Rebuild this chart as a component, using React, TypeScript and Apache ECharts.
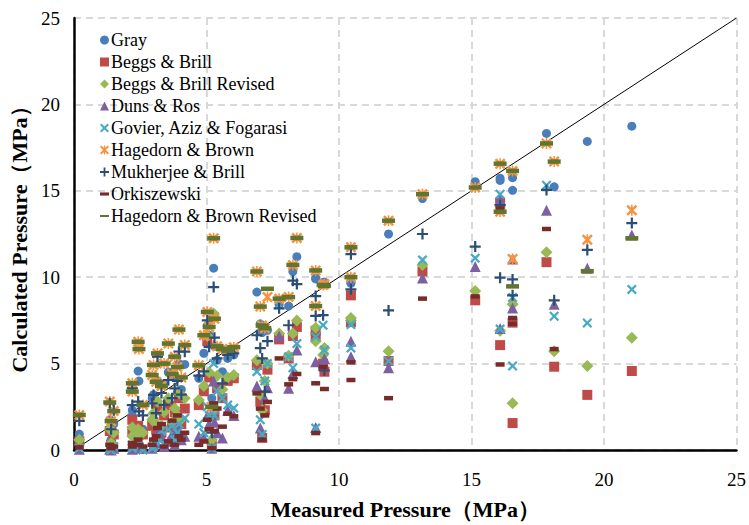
import React, { useEffect, useRef } from "react";
import * as echarts from "echarts";

const measured = [0.2,1.35,1.5,1.4,2.2,2.42,2.45,2.2,3.15,3.0,2.95,3.1,3.96,3.56,4.18,3.8,3.4,4.05,5.27,5.03,5.1,4.9,4.71,5.4,5.6,5.8,6.03,5.2,6.9,7.3,7.03,7.1,7.2,7.74,8.41,8.26,8.1,9.12,9.12,9.45,9.4,10.45,10.45,11.87,13.15,15.14,16.08,16.08,16.55,16.55,17.83,18.12,19.37,21.05,2.6,3.3,3.7,3.9,5.3];

const gray = [0.92,1.75,1.5,0.6,2.3,4.57,3.99,2.0,4.0,3.2,3.0,2.8,5.0,4.5,4.95,4.2,3.8,3.5,10.52,7.2,6.64,5.6,4.15,5.2,4.53,5.3,5.5,3.0,9.14,6.93,7.3,6.8,7.0,8.4,11.19,10.33,8.33,9.95,9.9,9.72,9.7,9.7,9.65,12.5,14.55,15.53,15.73,15.6,15.76,15.03,18.32,15.23,17.86,18.74,1.2,2.2,2.6,3.3,6.0];
const beggsBrill = [0.5,1.1,0.9,0.3,1.75,1.4,0.9,1.1,2.4,1.6,1.4,1.2,3.0,2.6,2.4,2.2,2.0,1.5,7.7,6.3,4.2,3.4,2.6,3.57,3.0,4.0,4.15,0.3,4.92,4.65,2.8,0.7,2.3,6.4,7.12,6.6,5.3,6.9,6.55,4.53,5.0,8.95,7.4,5.15,10.33,8.66,14.3,6.07,7.37,1.56,10.87,4.82,3.19,4.57,0.9,1.0,1.3,1.8,2.0];
const beggsBrillRevised = [0.6,1.2,1.0,0.4,1.3,1.2,1.0,0.8,2.8,2.13,1.75,1.5,3.3,3.0,3.0,2.4,2.2,1.8,7.9,6.6,4.5,3.7,2.9,4.3,3.5,4.2,4.34,0.6,5.2,5.0,3.2,2.3,4.0,6.74,7.5,6.74,5.45,7.07,6.3,5.9,5.5,7.64,7.5,5.72,10.7,9.2,14.2,6.9,8.43,2.71,11.44,5.72,4.86,6.49,1.0,1.4,1.6,2.0,2.4];
const dunsRos = [0.05,0.05,0.1,0.0,0.2,0.3,0.1,0.05,1.0,0.3,0.1,0.4,1.0,0.5,0.8,0.3,0.2,0.6,4.0,2.0,1.5,0.69,0.8,1.0,0.69,2.3,2.0,0.1,3.7,3.6,1.27,0.8,3.0,6.6,5.78,4.43,3.57,5.1,1.3,5.3,4.9,6.3,5.4,4.76,9.95,10.62,14.5,7.03,11.06,8.22,13.88,8.43,10.52,12.44,0.1,0.8,0.9,1.2,1.6];
const govier = [0.1,0.1,0.2,0.0,0.3,0.5,0.2,0.1,0.4,0.2,0.1,0.5,1.5,1.2,1.84,0.6,0.3,0.8,5.0,2.5,2.0,1.0,1.5,3.4,3.0,2.6,2.42,0.1,4.53,5.0,1.75,0.9,4.0,8.41,6.16,4.76,5.4,6.55,1.27,5.78,7.22,7.26,5.9,5.15,11.0,11.1,14.8,7.0,8.83,4.86,15.32,7.74,7.35,9.29,0.0,1.1,1.4,1.0,2.0];
const hagedornBrown = [2.03,2.8,2.25,1.67,3.86,6.26,5.84,3.38,5.59,4.92,4.34,3.95,6.97,6.16,6.07,5.4,5.0,4.2,12.25,7.99,7.12,6.64,4.9,6.0,5.85,5.75,5.95,2.5,10.33,8.85,8.3,7.2,7.05,8.76,12.27,10.71,8.85,10.39,8.33,9.6,9.55,11.73,10.0,13.27,14.8,15.19,16.57,13.79,16.15,11.06,17.74,16.69,12.17,13.88,2.6,3.7,4.4,4.8,7.6];
const mukherjee = [1.69,2.7,2.3,1.2,3.57,2.8,2.23,2.6,5.4,3.19,2.7,2.13,5.7,4.05,5.69,3.57,2.61,3.2,9.43,7.5,5.97,4.55,4.3,5.3,3.86,5.5,5.59,1.0,6.64,6.3,5.9,5.3,3.38,8.2,9.6,9.8,7.22,8.91,7.76,4.6,7.8,11.33,9.3,8.08,12.5,11.77,14.17,9.97,9.87,8.95,15.05,8.66,11.58,13.13,2.0,3.3,3.0,4.0,6.5];
const orkiszewski: (number | null)[] = [0.15,0.3,0.2,0.1,0.4,0.6,0.3,0.2,1.27,0.6,0.3,0.8,0.8,0.5,1.0,0.3,0.2,0.6,2.7,1.75,1.2,0.5,0.3,2.4,1.35,2.1,1.95,0.1,3.28,2.78,2.4,0.6,2.0,5.3,4.4,4.1,3.8,3.86,0.98,3.53,4.8,5.07,4.05,3.0,8.76,8.89,13.98,4.95,7.64,7.3,12.79,5.84,null,null,0.2,1.5,1.7,2.0,1.1];
const hagedornBrownRevised = [2.03,2.75,2.25,1.67,3.86,6.26,5.84,3.38,5.59,4.92,4.34,3.95,6.97,6.16,6.07,5.4,5.0,4.2,12.25,7.99,7.12,6.64,4.9,6.0,5.85,5.75,5.95,2.5,10.33,9.33,8.3,7.2,7.05,8.76,12.27,10.71,8.85,10.39,8.33,9.5,9.55,11.73,10.0,13.27,14.8,15.19,16.57,13.79,16.15,9.47,17.74,16.69,10.35,12.25,2.6,3.7,4.4,4.8,7.6];

const X_PATH = "path://M0,1.6L1.6,0L5,3.4L8.4,0L10,1.6L6.6,5L10,8.4L8.4,10L5,6.6L1.6,10L0,8.4L3.4,5Z";
const STAR_PATH = "path://M0,1.6L1.6,0L5,3.4L8.4,0L10,1.6L6.6,5L10,8.4L8.4,10L5,6.6L1.6,10L0,8.4L3.4,5Z M4.3,0H5.7V10H4.3Z";
const PLUS_PATH = "path://M4,0H6V4H10V6H6V10H4V6H0V4H4Z";
const SHORT_DASH = "path://M0,0H10V3.5H0Z";
const LONG_DASH = "path://M0,0H16V3.5H0Z";

const seriesDefs = [
  { name: "Gray", values: gray, color: "#4a7ebb", symbol: "circle", size: 9, icon: "circle" },
  { name: "Beggs & Brill", values: beggsBrill, color: "#be4b48", symbol: "rect", size: 10, icon: "rect" },
  { name: "Beggs & Brill Revised", values: beggsBrillRevised, color: "#98b954", symbol: "diamond", size: 12, icon: "diamond" },
  { name: "Duns & Ros", values: dunsRos, color: "#7d60a0", symbol: "triangle", size: 11, icon: "triangle" },
  { name: "Govier, Aziz & Fogarasi", values: govier, color: "#46aac5", symbol: X_PATH, size: 10, icon: X_PATH },
  { name: "Hagedorn & Brown", values: hagedornBrown, color: "#f69240", symbol: STAR_PATH, size: 11, icon: STAR_PATH },
  { name: "Mukherjee & Brill", values: mukherjee, color: "#2c4d75", symbol: PLUS_PATH, size: 11, icon: PLUS_PATH },
  { name: "Orkiszewski", values: orkiszewski, color: "#772c2a", symbol: "rect", size: [9, 4.5], icon: SHORT_DASH },
  { name: "Hagedorn & Brown Revised", values: hagedornBrownRevised, color: "#5f7530", symbol: "rect", size: [13, 4.5], icon: LONG_DASH },
];

const FONT = "Liberation Serif, serif";

export default function App() {
  const ref = useRef<HTMLDivElement>(null);
  useEffect(() => {
    if (!ref.current) return;
    const chart = echarts.init(ref.current, null, { renderer: "svg" });
    const series: any[] = [
      {
        type: "line",
        name: "y=x",
        data: [[0, 0], [25, 25]],
        showSymbol: false,
        symbol: "none",
        lineStyle: { color: "#000", width: 1 },
        silent: true,
        z: 1,
      },
      ...seriesDefs.map((s) => ({
        type: "scatter",
        name: s.name,
        symbol: s.symbol,
        symbolSize: s.size,
        itemStyle: { color: s.color, opacity: 1 },
        data: measured
          .map((x, i) => [x, s.values[i]])
          .filter((p) => p[1] !== null && p[1] !== undefined),
        z: 2,
      })),
    ];
    const hiddenAxis = {
      type: "value",
      min: 0,
      max: 25,
      interval: 5,
      axisLine: { show: true, lineStyle: { color: "#000", width: 1.3 } },
      axisTick: { show: false },
      axisLabel: { show: false },
      splitLine: { show: false },
    };
    chart.setOption({
      animation: false,
      backgroundColor: "#fff",
      grid: {
        left: 73,
        right: 11,
        top: 18,
        bottom: 73,
        show: false,
      },
      legend: {
        orient: "vertical",
        left: 95,
        top: 26,
        itemWidth: 9,
        itemHeight: 9,
        itemGap: 4,
        textStyle: { fontFamily: FONT, fontSize: 18, lineHeight: 18, color: "#000", padding: [0, 0, 0, -3] },
        data: seriesDefs.map((s) => ({ name: s.name, icon: s.icon, itemStyle: { color: s.color } })),
      },
      xAxis: [
        {
          type: "value",
          min: 0,
          max: 25,
          interval: 5,
          position: "bottom",
          name: "Measured Pressure（MPa）",
          nameLocation: "middle",
          nameGap: 48,
          nameTextStyle: { fontFamily: FONT, fontSize: 22, fontWeight: "bold", color: "#000" },
          axisLine: { show: true, onZero: false, lineStyle: { color: "#1a1a1a", width: 2.5 } },
          axisTick: { show: false },
          axisLabel: { fontFamily: FONT, fontSize: 19, color: "#000", margin: 20 },
          splitLine: { show: true, lineStyle: { color: "#d9d9d9", width: 2, type: [7, 5] } },
        },
        { ...hiddenAxis, position: "top" },
      ],
      yAxis: [
        {
          type: "value",
          min: 0,
          max: 25,
          interval: 5,
          position: "left",
          name: "Calculated Pressure（MPa）",
          nameLocation: "middle",
          nameGap: 44,
          nameTextStyle: { fontFamily: FONT, fontSize: 22, fontWeight: "bold", color: "#000" },
          axisLine: { show: true, onZero: false, lineStyle: { color: "#1a1a1a", width: 2.5 } },
          axisTick: { show: false },
          axisLabel: { fontFamily: FONT, fontSize: 19, color: "#000", margin: 14 },
          splitLine: { show: true, lineStyle: { color: "#d9d9d9", width: 2, type: [7, 5] } },
        },
        { ...hiddenAxis, position: "right" },
      ],
      series,
    });
    return () => chart.dispose();
  }, []);
  return (
    <div
      ref={ref}
      style={{ position: "fixed", left: 0, top: 0, width: 749, height: 525, background: "#fff" }}
    />
  );
}
